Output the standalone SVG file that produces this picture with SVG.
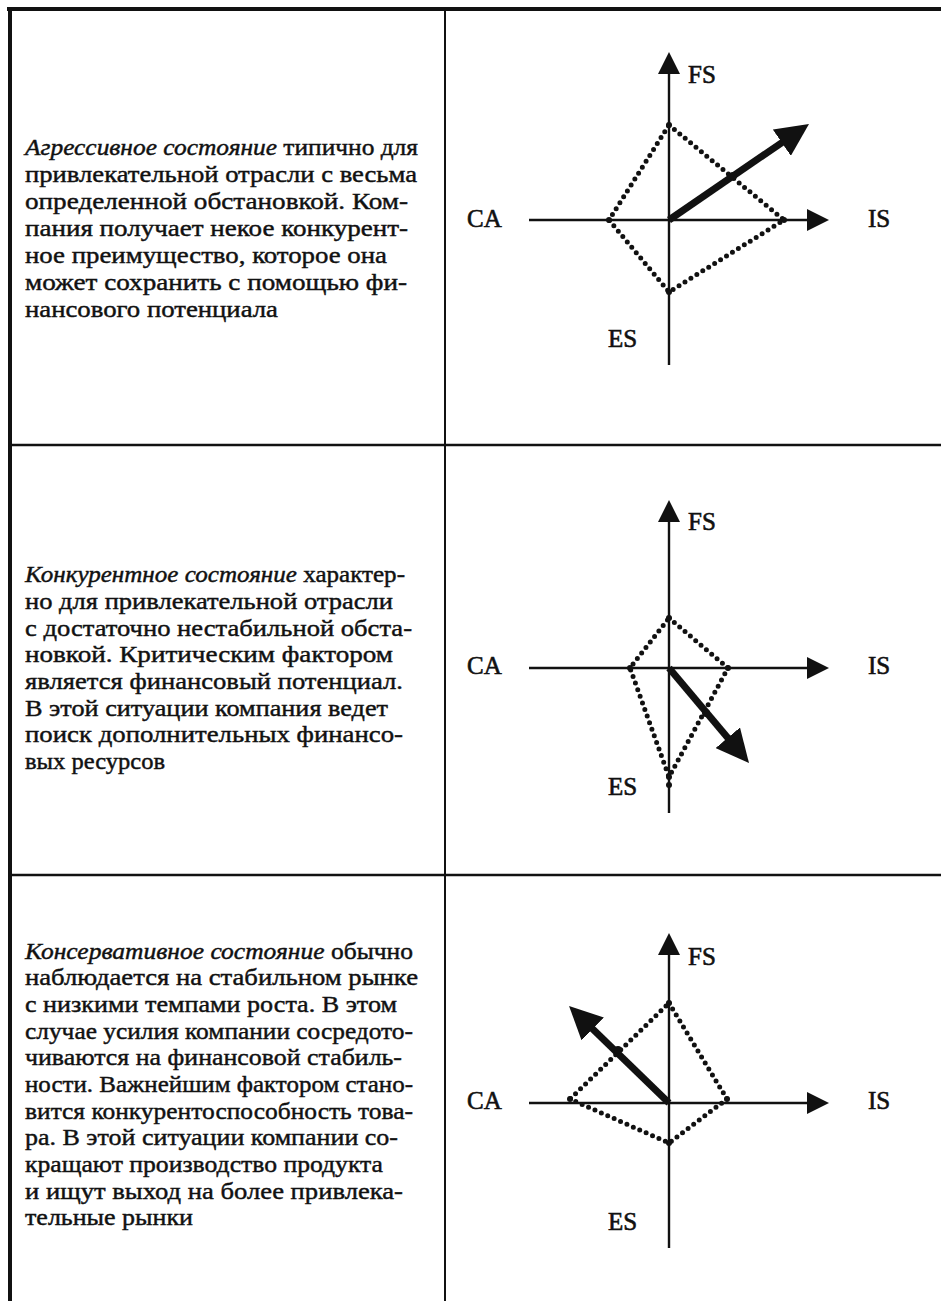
<svg xmlns="http://www.w3.org/2000/svg" width="941" height="1301" viewBox="0 0 941 1301">
  <style>
    .body { font-family: "Liberation Serif", "Times New Roman", serif; font-size: 24px; fill: #111; stroke: #111; stroke-width: 0.45; }
    .it { font-style: italic; }
    .lbl { font-family: "Liberation Serif", "Times New Roman", serif; font-size: 25px; fill: #111; stroke: #111; stroke-width: 0.6; }
    .frame { stroke: #111; fill: none; }
    .axis { stroke: #111; stroke-width: 2.4; fill: none; }
    .dots { stroke: #111; stroke-width: 5; fill: none; stroke-linecap: round; stroke-linejoin: round; stroke-dasharray: 0 7; }
    .vec { stroke: #111; stroke-width: 7; fill: none; }
    .pt { fill: #111; }
  </style>
  <defs>
    <marker id="axisHead" markerUnits="userSpaceOnUse" viewBox="0 -11 22 22" markerWidth="22" markerHeight="22" refX="2" refY="0" orient="auto">
      <path d="M0,-11 L22,0 L0,11 z" fill="#111"/>
    </marker>
    <marker id="vecHead" markerUnits="userSpaceOnUse" viewBox="0 -16 33 32" markerWidth="33" markerHeight="32" refX="13" refY="0" orient="auto">
      <path d="M0,-16 L33,0 L0,16 z" fill="#111"/>
    </marker>
  </defs>
  <rect width="941" height="1301" fill="#fff"/>

  <!-- table grid -->
  <g id="table">
    <line class="frame" x1="7" y1="9" x2="941" y2="9" stroke-width="4"/>
    <line class="frame" x1="10" y1="7" x2="10" y2="1301" stroke-width="4"/>
    <line class="frame" x1="445" y1="9" x2="445" y2="1301" stroke-width="2"/>
    <line class="frame" x1="10" y1="445" x2="941" y2="445" stroke-width="2.5"/>
    <line class="frame" x1="10" y1="875" x2="941" y2="875" stroke-width="2.5"/>
  </g>

  <!-- row 1: aggressive -->
  <g id="text-aggressive" class="body">
    <text x="25" y="155" textLength="393" lengthAdjust="spacingAndGlyphs"><tspan class="it">Агрессивное состояние</tspan> типично для</text>
    <text x="25" y="182" textLength="392" lengthAdjust="spacingAndGlyphs">привлекательной отрасли с весьма</text>
    <text x="25" y="209" textLength="383" lengthAdjust="spacingAndGlyphs">определенной обстановкой. Ком-</text>
    <text x="25" y="236" textLength="383" lengthAdjust="spacingAndGlyphs">пания получает некое конкурент-</text>
    <text x="25" y="263" textLength="362" lengthAdjust="spacingAndGlyphs">ное преимущество, которое она</text>
    <text x="25" y="290" textLength="382" lengthAdjust="spacingAndGlyphs">может сохранить с помощью фи-</text>
    <text x="25" y="317" textLength="253" lengthAdjust="spacingAndGlyphs">нансового потенциала</text>
  </g>
  <g id="chart-aggressive">
    <g class="connectors">
      <line class="axis" x1="529" y1="220" x2="809" y2="220" marker-end="url(#axisHead)"/>
      <line class="axis" x1="669" y1="365" x2="669" y2="72" marker-end="url(#axisHead)"/>
      <polygon class="dots" points="669,125 784,220 669,292 609,220"/>
      <line class="vec" x1="669" y1="220" x2="792.5" y2="135.3" marker-end="url(#vecHead)"/>
    </g>
    <circle class="pt" cx="669" cy="125" r="3"/>
    <circle class="pt" cx="784" cy="220" r="3"/>
    <circle class="pt" cx="669" cy="292" r="3"/>
    <circle class="pt" cx="609" cy="220" r="3"/>
    <circle class="pt" cx="733" cy="176" r="4"/>
    <g class="lbl">
      <text x="688" y="83">FS</text>
      <text x="868" y="227">IS</text>
      <text x="467" y="227">CA</text>
      <text x="608" y="347">ES</text>
    </g>
  </g>

  <!-- row 2: competitive -->
  <g id="text-competitive" class="body">
    <text x="25" y="582" textLength="380" lengthAdjust="spacingAndGlyphs"><tspan class="it">Конкурентное состояние</tspan> характер-</text>
    <text x="25" y="609" textLength="368" lengthAdjust="spacingAndGlyphs">но для привлекательной отрасли</text>
    <text x="25" y="636" textLength="387" lengthAdjust="spacingAndGlyphs">с достаточно нестабильной обста-</text>
    <text x="25" y="662" textLength="368" lengthAdjust="spacingAndGlyphs">новкой. Критическим фактором</text>
    <text x="25" y="689" textLength="378" lengthAdjust="spacingAndGlyphs">является финансовый потенциал.</text>
    <text x="25" y="716" textLength="363" lengthAdjust="spacingAndGlyphs">В этой ситуации компания ведет</text>
    <text x="25" y="742" textLength="378" lengthAdjust="spacingAndGlyphs">поиск дополнительных финансо-</text>
    <text x="25" y="769" textLength="140" lengthAdjust="spacingAndGlyphs">вых ресурсов</text>
  </g>
  <g id="chart-competitive">
    <g class="connectors">
      <line class="axis" x1="529" y1="668" x2="809" y2="668" marker-end="url(#axisHead)"/>
      <line class="axis" x1="669" y1="813" x2="669" y2="520" marker-end="url(#axisHead)"/>
      <polygon class="dots" points="669,618 728,668 669,777 630,668"/>
      <line class="vec" x1="669" y1="668" x2="736.1" y2="747.7" marker-end="url(#vecHead)"/>
    </g>
    <circle class="pt" cx="669" cy="618" r="3"/>
    <circle class="pt" cx="728" cy="668" r="3"/>
    <circle class="pt" cx="669" cy="777" r="3"/>
    <circle class="pt" cx="669" cy="785" r="3"/>
    <circle class="pt" cx="630" cy="668" r="3"/>
    <circle class="pt" cx="706" cy="713" r="4"/>
    <g class="lbl">
      <text x="688" y="530">FS</text>
      <text x="868" y="674">IS</text>
      <text x="467" y="674">CA</text>
      <text x="608" y="795">ES</text>
    </g>
  </g>

  <!-- row 3: conservative -->
  <g id="text-conservative" class="body">
    <text x="25" y="959" textLength="388" lengthAdjust="spacingAndGlyphs"><tspan class="it">Консервативное состояние</tspan> обычно</text>
    <text x="25" y="985" textLength="393" lengthAdjust="spacingAndGlyphs">наблюдается на стабильном рынке</text>
    <text x="25" y="1012" textLength="372" lengthAdjust="spacingAndGlyphs">с низкими темпами роста. В этом</text>
    <text x="25" y="1039" textLength="388" lengthAdjust="spacingAndGlyphs">случае усилия компании сосредото-</text>
    <text x="25" y="1065" textLength="377" lengthAdjust="spacingAndGlyphs">чиваются на финансовой стабиль-</text>
    <text x="25" y="1092" textLength="388" lengthAdjust="spacingAndGlyphs">ности. Важнейшим фактором стано-</text>
    <text x="25" y="1119" textLength="388" lengthAdjust="spacingAndGlyphs">вится конкурентоспособность това-</text>
    <text x="25" y="1145" textLength="373" lengthAdjust="spacingAndGlyphs">ра. В этой ситуации компании со-</text>
    <text x="25" y="1172" textLength="358" lengthAdjust="spacingAndGlyphs">кращают производство продукта</text>
    <text x="25" y="1199" textLength="378" lengthAdjust="spacingAndGlyphs">и ищут выход на более привлека-</text>
    <text x="25" y="1225" textLength="168" lengthAdjust="spacingAndGlyphs">тельные рынки</text>
  </g>
  <g id="chart-conservative">
    <g class="connectors">
      <line class="axis" x1="529" y1="1103" x2="809" y2="1103" marker-end="url(#axisHead)"/>
      <line class="axis" x1="669" y1="1248" x2="669" y2="953" marker-end="url(#axisHead)"/>
      <polygon class="dots" points="669,1003 727,1099 669,1143 570,1099"/>
      <line class="vec" x1="669" y1="1103" x2="583.4" y2="1019.9" marker-end="url(#vecHead)"/>
    </g>
    <circle class="pt" cx="669" cy="1003" r="3"/>
    <circle class="pt" cx="727" cy="1099" r="3"/>
    <circle class="pt" cx="669" cy="1143" r="3"/>
    <circle class="pt" cx="570" cy="1099" r="3"/>
    <circle class="pt" cx="618" cy="1050" r="4"/>
    <g class="lbl">
      <text x="688" y="965">FS</text>
      <text x="868" y="1109">IS</text>
      <text x="467" y="1109">CA</text>
      <text x="608" y="1230">ES</text>
    </g>
  </g>
</svg>
